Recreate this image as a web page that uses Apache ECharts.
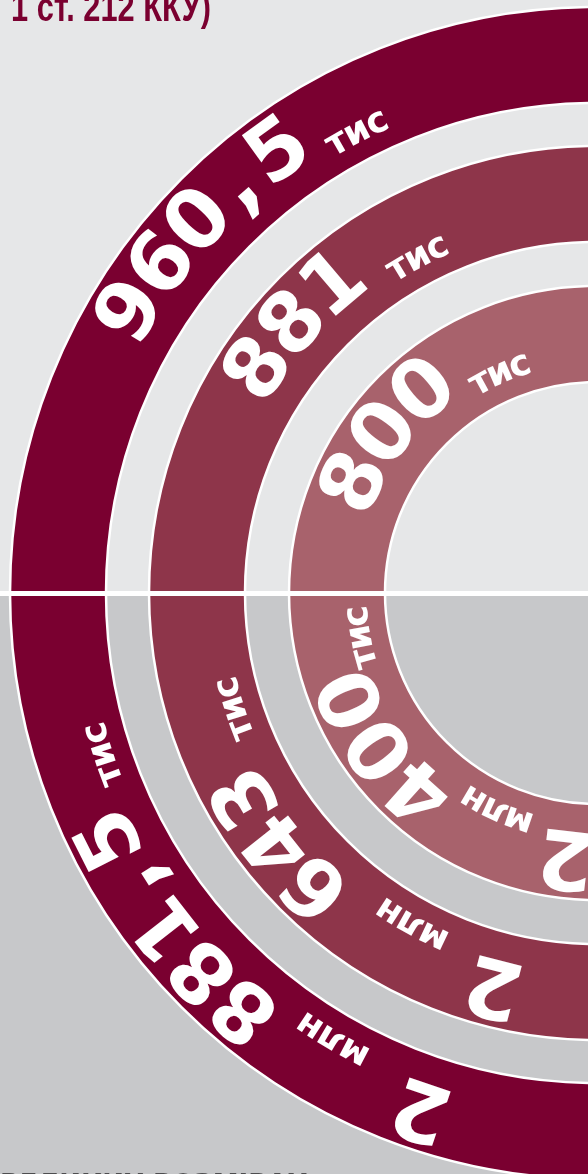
<!DOCTYPE html>
<html><head><meta charset="utf-8">
<script src="https://cdn.jsdelivr.net/npm/echarts@6/dist/echarts.min.js"></script>
<style>html,body{margin:0;padding:0;background:#e6e7e8;overflow:hidden}#c{width:588px;height:1174px}</style>
</head><body><div id="c"></div>
<script>
// ---- data (thousands) ----
const ringNames = ['outer', 'middle', 'inner'];
const topValues = [960.5, 881, 800];
const bottomValues = [2881.5, 2643, 2400];
const ringColors = ['#7a0030', '#8e354a', '#a8626c'];
const headerText = '1 ст. 212 ККУ)';
const footerText = 'ВЕЛИКИХ РОЗМІРАХ';

// ---- layout ----
const CENTER = [596, 593];
const RING_INNER = [490, 351, 211];
const RING_WIDTH = 96;
// angular centres (deg) of each word along the ring
const TOP_CENTERS = [[137.3, 117.4], [138.4, 118], [143, 113.6]];
const BOTTOM_CENTERS = [[251.3, 239.5, 218.4, 198.1], [255.4, 241, 218.3, 197.7], [263.5, 245.5, 215.9, 190.6]];
const FONT = 'DejaVu Sans';
const NUM_SIZE = 82, UNIT_SIZE = 36;
const NUM_DR = 2, UNIT_DR = -20, NUM_TRACK = -1;

const ctx = document.createElement('canvas').getContext('2d');
function adv(ch, size) { ctx.font = 'bold ' + size + 'px "' + FONT + '"'; return ctx.measureText(ch).width; }
function fmt(v) { return String(v).replace('.', ','); }
function segsTop(v) { return [{ t: fmt(v), num: true }, { t: 'тис', num: false }]; }
function segsBottom(v) {
  const m = Math.floor(v / 1000);
  const k = Math.round((v - m * 1000) * 10) / 10;
  return [{ t: String(m), num: true }, { t: 'млн', num: false }, { t: fmt(k), num: true }, { t: 'тис', num: false }];
}
const glyphs = [];
function layout(segs, centers, rMid) {
  segs.forEach((seg, si) => {
    const size = seg.num ? NUM_SIZE : UNIT_SIZE;
    const r = rMid + (seg.num ? NUM_DR : UNIT_DR);
    const ws = Array.from(seg.t).map(ch => adv(ch, size) * (ch === ',' ? 1.6 : 1) + (seg.num ? NUM_TRACK : 0));
    const W = ws.reduce((a, b) => a + b, 0);
    let s = 0;
    Array.from(seg.t).forEach((ch, ci) => {
      const c = s + ws[ci] / 2;
      const ang = centers[si] + (W / 2 - c) / rMid * 180 / Math.PI;
      glyphs.push({ r: r, a: ang, ch: ch, size: size });
      s += ws[ci];
    });
  });
}
ringNames.forEach((n, i) => {
  const rMid = RING_INNER[i] + RING_WIDTH / 2;
  layout(segsTop(topValues[i]), TOP_CENTERS[i], rMid);
  layout(segsBottom(bottomValues[i]), BOTTOM_CENTERS[i], rMid);
});

function labelTop(v) { return segsTop(v).map(s => s.t).join(' '); }
function labelBottom(v) { return segsBottom(v).map(s => s.t).join(' '); }

const series = ringNames.map((n, i) => ({
  type: 'pie', name: n, center: CENTER,
  radius: [RING_INNER[i], RING_INNER[i] + RING_WIDTH],
  startAngle: 180, clockwise: true, silent: true, z: 2,
  label: { show: false }, labelLine: { show: false },
  itemStyle: { color: ringColors[i], borderColor: '#ffffff', borderWidth: 2.5 },
  data: [{ name: labelTop(topValues[i]), value: 1 }, { name: labelBottom(bottomValues[i]), value: 1 }]
}));
series.push({
  type: 'custom', coordinateSystem: 'polar', silent: true, z: 10,
  data: glyphs.map(g => [g.r, g.a]),
  renderItem: function (params, api) {
    const g = glyphs[params.dataIndex];
    const p = api.coord([api.value(0), api.value(1)]);
    return {
      type: 'text', x: p[0], y: p[1], rotation: (api.value(1) - 90) * Math.PI / 180,
      style: { text: g.ch, fill: '#ffffff', font: 'bold ' + g.size + 'px "' + FONT + '"', align: 'center', verticalAlign: 'middle' }
    };
  }
});

const chart = echarts.init(document.getElementById('c'), null, { renderer: 'canvas' });
chart.setOption({
  animation: false,
  polar: { center: CENTER, radius: 586 },
  radiusAxis: { type: 'value', min: 0, max: 586, show: false, axisLine: { show: false }, axisTick: { show: false }, axisLabel: { show: false }, splitLine: { show: false } },
  angleAxis: { type: 'value', min: 0, max: 360, startAngle: 0, clockwise: false, show: false, axisLine: { show: false }, axisTick: { show: false }, axisLabel: { show: false }, splitLine: { show: false } },
  graphic: [
    { type: 'rect', z: -10, shape: { x: 0, y: 0, width: 588, height: 593 }, style: { fill: '#e6e7e8' } },
    { type: 'rect', z: -10, shape: { x: 0, y: 593, width: 588, height: 581 }, style: { fill: '#c7c8ca' } },
    { type: 'rect', z: 50, shape: { x: 0, y: 591, width: 588, height: 5 }, style: { fill: '#ffffff' } },
    { type: 'text', z: 50, x: 211, y: 9.5, scaleX: 0.77, style: { text: headerText, fill: '#7a0030', font: 'bold 40px "Liberation Sans"', align: 'right', verticalAlign: 'middle' } },
    { type: 'text', z: 50, x: 0, y: 1186, style: { text: footerText, fill: '#4d4d4f', font: 'bold 26px "DejaVu Sans"', align: 'left', verticalAlign: 'middle' } }
  ],
  series: series
});
</script></body></html>
